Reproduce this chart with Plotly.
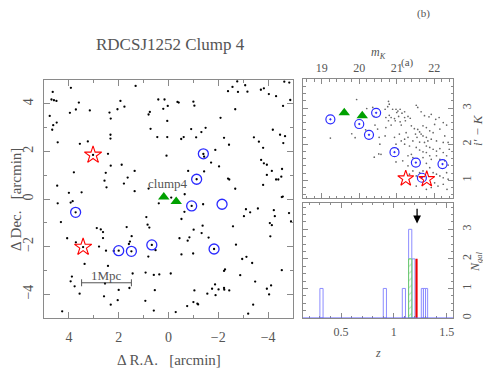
import plotly.graph_objects as go

# ---- left panel: sky positions (arcmin) ----
field_ra = [4.65, 3.92, 1.32, 4.7, 4.6, 4.5, 3.6, 1.93, 1.77, 2.05, 0.41, 0.16, 0.03, 0.21,
            3.96, 3.72, 3.16, 2.37, 0.75, 0.8, 4.77, 2.32, 0.05, 4.49, 4.63, 4.67, 0.72,
            2.33, 2.33, 0.45, 0.05, 4.45, 3.24, 3.56, 2.43, 0.08, 1.88, 2.32, 3.8, 1.36,
            1.64, 2.52, 2.57, 2.49, 4.47, 1.79, 0.8, 4.0, 3.49, 1.36,
            -2.76, -2.39, -2.57, -2.79, -3.08, -3.17, -3.71, -3.83, -4.03, -4.32, -4.65, -4.89,
            -0.36, -0.41, -1.0, -1.04, -2.68, -4.6, -2.09, -0.91, -1.32, -1.49, -4.19, -4.48,
            -4.68, -4.61, -0.51, -0.61, -1.11, -2.23, -2.43, -3.43, -3.63, -3.8, -1.88, -1.4,
            -1.43, -1.71, -2.03, -3.72, -3.83, -3.95, -4.56, -0.79, -1.43, -4.15, -3.95, -4.53,
            -4.32, -4.41, -2.39, -2.44, -3.8, -2.68, -0.65, -4.59, -4.85, -1.13,
            4.45, 3.93, 3.85, 3.73, 4.32, 0.39, 0.2, 0.89, 2.88, 2.63, 2.72, 1.68, 0.84, 0.77,
            4.07, 2.63, 1.48, 1.55, 1.59, 3.43, 3.72, 2.79, 2.0, 1.49, 0.67, 2.51, 2.2, 0.81,
            0.52, 3.37, 2.43, 1.44, 0.92, 0.59, 0.37, 3.88, 3.93, 3.77, 2.55, 2.0, 1.57, 0.55,
            3.57, 2.59, 2.04, 0.93, 2.32, 4.27, 0.59, 3.03,
            -0.11, -0.93, -1.39, -0.64, -0.52, -3.11, -3.28, -3.59, -3.03, -4.23, -4.27, -4.84,
            -4.92, -4.07, -4.15, -4.55, -1.37, -1.01, -1.33, -2.59, -4.09, -0.44, -0.84, -0.77,
            -1.61, -2.71, -1.83, -0.52, -0.99, -3.13, -2.96, -3.36, -2.27, -2.23, -4.55, -0.09,
            -2.88, -3.48, -1.87, -1.75, -2.01, -2.23, -2.24, -2.44, -1.04, -4.12, -3.95, -4.04,
            -1.56, -1.89, -1.0, -1.16, -1.19, -0.75, -3.4, -0.29, -3.2, -0.31]
field_dec = [4.5, 4.67, 4.75, 4.18, 4.15, 4.12, 4.05, 4.12, 3.88, 3.77, 4.18, 4.18, 3.91, 3.79,
             3.62, 3.76, 3.72, 3.63, 3.66, 3.55, 3.49, 3.38, 3.28, 3.21, 3.1, 2.91, 2.95,
             2.7, 2.54, 2.6, 2.6, 2.38, 2.42, 2.32, 1.9, 1.82, 1.44, 1.4, 1.12, 1.18,
             0.9, 1.1, 0.77, 0.49, 0.56, 0.65, 0.44, 0.26, 0.28, 0.33,
             4.94, 4.53, 4.71, 4.5, 4.78, 4.51, 4.59, 4.65, 4.41, 4.32, 4.93, 4.16,
             4.08, 4.05, 4.09, 3.92, 3.77, 3.91, 3.41, 2.94, 2.81, 2.99, 2.91, 2.7,
             2.64, 2.35, 2.52, 2.6, 2.59, 2.57, 2.28, 2.59, 2.41, 2.15, 2.06, 1.89,
             1.78, 1.53, 1.37, 1.64, 1.5, 1.44, 1.26, 1.18, 1.16, 1.18, 1.01, 0.94,
             0.82, 0.82, 0.86, 0.82, 0.59, 0.43, 0.2, 0.1, 4.89, 0.83,
             -0.18, -0.15, -0.09, -0.56, -0.97, -0.18, 0.08, -0.76, -1.22, -1.39, -1.28, -1.18, -1.08, -1.2,
             -1.65, -1.64, -1.56, -1.79, -1.89, -2.02, -1.82, -2.0, -2.17, -2.2, -1.93, -2.17, -2.18, -2.42,
             -2.15, -2.73, -2.81, -3.13, -3.09, -3.19, -3.17, -3.26, -3.46, -3.67, -3.55, -3.82, -3.74, -3.83,
             -3.98, -4.09, -4.25, -4.28, -4.44, -4.72, -4.69, 1.85,
             0.06, -0.29, -0.22, -0.54, -0.84, -0.43, -0.56, -0.4, -0.72, -0.47, -0.72, -0.59,
             -0.94, -1.01, -1.1, 0.08, -1.12, -1.29, -1.43, -1.15, -1.57, -1.65, -1.61, -1.75,
             -1.62, -1.92, -2.1, -2.33, -2.29, -2.43, -2.52, -2.69, -2.96, -3.02, -2.99, -3.13,
             -3.2, -3.47, -3.59, -3.77, -3.8, -3.74, -3.81, -3.84, -3.84, -3.63, -3.77, -4.01,
             -3.98, -4.04, -4.33, -4.4, -4.43, -4.5, -4.44, -4.75, -4.82, -0.1]

member_ra = [-1.4, -1.13, -0.93, -2.15, 3.73, 2.0, 1.49, 0.67, -1.83]
member_dec = [1.9, 0.83, -0.29, -0.22, -0.56, -2.17, -2.2, -1.93, -2.1]
star_ra = [3.03, 3.43]
star_dec = [1.85, -2.02]
tri_ra = [0.19, -0.31]
tri_dec = [0.08, -0.1]
clump_label = ("clump4", 0.05, 0.64)
scalebar_ra = [3.49, 1.49]
scalebar_dec = [-3.52, -3.52]
scalebar_label = ("1Mpc", 2.5, -3.2)

# ---- top right: colour-magnitude ----
cmd_mk = [20.78, 20.80, 20.76, 20.69, 20.89, 20.98, 21.03, 21.09, 21.00, 21.14, 21.21, 20.80,
          20.71, 20.85, 20.94, 21.05, 21.21, 21.30, 21.36, 20.78, 20.96, 21.09, 21.23, 21.52,
          21.56, 21.65, 21.74, 21.86, 21.92, 22.04, 22.13, 22.24, 22.33, 20.71, 20.85, 21.12,
          21.39, 21.47, 21.56, 21.61, 21.65, 21.70, 21.79, 21.88, 21.97, 21.50, 21.54, 21.43,
          21.61, 21.79, 21.88, 21.97, 22.06, 22.15, 22.24, 22.33, 22.06, 22.15, 22.28, 22.37,
          21.79, 21.88, 21.92, 21.34, 21.39, 21.43, 21.30, 21.70, 21.21, 21.12, 20.69, 20.94,
          20.98, 21.03, 21.16, 20.98, 21.30, 21.79, 21.88, 21.97, 22.06, 22.15, 22.24, 22.33,
          22.37, 22.01, 21.70, 21.61, 21.52, 21.43, 21.34, 21.79, 21.92, 22.10, 22.24, 22.34,
          21.52, 20.53, 20.55, 20.58, 20.49, 21.25, 21.30, 21.21, 21.07, 21.70, 21.79, 22.01,
          22.15, 22.28, 22.37, 22.40, 22.24, 22.06, 21.92, 21.83, 21.74, 21.52, 21.61, 21.70,
          19.93, 19.23, 19.80, 19.89, 20.20, 20.36, 20.39, 20.42, 20.40, 20.52, 20.17]
cmd_col = [3.19, 3.11, 3.04, 2.97, 2.97, 2.97, 2.92, 2.97, 2.88, 2.86, 2.90, 2.80,
           2.74, 2.74, 2.71, 2.77, 2.74, 2.77, 2.72, 2.65, 2.65, 2.62, 2.65, 3.08,
           3.02, 2.90, 2.79, 2.76, 2.83, 2.69, 2.74, 2.60, 2.53, 2.46, 2.53, 2.53,
           2.51, 2.43, 2.41, 2.34, 2.28, 2.23, 2.19, 2.37, 2.32, 2.28, 2.19, 2.09,
           2.06, 1.95, 1.91, 1.86, 1.81, 1.88, 1.77, 1.68, 1.68, 1.58, 1.54, 1.42,
           1.77, 1.68, 1.58, 1.95, 1.72, 1.63, 1.68, 1.63, 2.00, 2.09, 2.23, 2.19,
           2.00, 1.86, 1.54, 1.51, 1.40, 1.47, 1.35, 1.21, 1.17, 1.12, 1.07, 1.21,
           1.03, 0.93, 1.26, 1.21, 1.12, 1.26, 1.17, 0.75, 0.80, 0.84, 0.89, 0.75,
           0.84, 2.19, 2.00, 1.72, 2.42, 2.32, 2.19, 2.14, 2.28, 2.51, 2.46, 2.55,
           2.42, 2.23, 2.05, 1.86, 2.05, 2.09, 2.14, 2.09, 2.05, 1.91, 1.84, 1.79,
           3.24, 2.17, 2.29, 2.18, 2.99, 3.02, 2.77, 2.53, 1.64, 1.73, 2.40]
cmd_member_mk = [19.23, 20.0, 20.26, 20.45, 20.94, 21.51, 21.67, 22.22]
cmd_member_col = [2.69, 2.56, 2.26, 2.87, 1.78, 1.49, 1.07, 1.45]
cmd_star_mk = [21.24, 21.8]
cmd_star_col = [1.05, 1.03]
cmd_tri_mk = [19.6, 20.08]
cmd_tri_col = [2.87, 2.79]

# ---- bottom right: redshift histogram ----
z_left = [0.30, 0.90, 1.08, 1.14, 1.17, 1.26, 1.28, 1.30]
z_right = [0.33, 0.93, 1.11, 1.17, 1.20, 1.28, 1.30, 1.32]
z_count = [1, 1, 1, 3, 2, 1, 1, 1]
green_z = [1.14, 1.17]
green_n = 2
red_z = [1.205, 1.225]
red_n = 2
arrow_z = 1.22
arrow_top, arrow_tip = 3.75, 3.2

GREY = "#555555"
FRAME = "#8a8a8a"
BLUE = "#2b2bff"
FONT = "Liberation Serif"

W, H = 483, 361  # page body has an 8px margin


def px(x):
    return (x - 8) / W


def py(y):
    return 1 - (y - 8) / H


fig = go.Figure()

# left panel
fig.add_trace(go.Scatter(x=field_ra, y=field_dec, mode="markers",
                         marker=dict(color="black", size=2.3), xaxis="x", yaxis="y"))
fig.add_trace(go.Scatter(x=member_ra, y=member_dec, mode="markers",
                         marker=dict(symbol="circle-open", color=BLUE, size=10, line=dict(width=1.3)),
                         xaxis="x", yaxis="y"))
fig.add_trace(go.Scatter(x=star_ra, y=star_dec, mode="markers",
                         marker=dict(symbol="star-open", color="red", size=13, line=dict(width=1.1)),
                         xaxis="x", yaxis="y"))
fig.add_trace(go.Scatter(x=tri_ra, y=tri_dec, mode="markers",
                         marker=dict(symbol="triangle-up", color="#00a000", size=10),
                         xaxis="x", yaxis="y"))
fig.add_trace(go.Scatter(x=scalebar_ra, y=scalebar_dec, mode="lines+markers",
                         line=dict(color=GREY, width=1),
                         marker=dict(symbol="line-ns-open", size=5, color=GREY, line=dict(width=1)),
                         xaxis="x", yaxis="y"))

# colour-magnitude panel
fig.add_trace(go.Scatter(x=cmd_mk, y=cmd_col, mode="markers",
                         marker=dict(color="#666666", size=1.7), xaxis="x2", yaxis="y2"))
fig.add_trace(go.Scatter(x=cmd_member_mk, y=cmd_member_col, mode="markers",
                         marker=dict(symbol="circle-open-dot", color=BLUE, size=9, line=dict(width=1.2)),
                         xaxis="x2", yaxis="y2"))
fig.add_trace(go.Scatter(x=cmd_star_mk, y=cmd_star_col, mode="markers",
                         marker=dict(symbol="star-open", color="red", size=12, line=dict(width=1.1)),
                         xaxis="x2", yaxis="y2"))
fig.add_trace(go.Scatter(x=cmd_tri_mk, y=cmd_tri_col, mode="markers",
                         marker=dict(symbol="triangle-up", color="#00a000", size=10),
                         xaxis="x2", yaxis="y2"))

# histogram
fig.add_trace(go.Bar(x=[(a + b) / 2 for a, b in zip(z_left, z_right)], y=z_count,
                     width=[b - a for a, b in zip(z_left, z_right)],
                     marker=dict(color="rgba(0,0,0,0)", line=dict(color="#8c8cff", width=1)),
                     xaxis="x3", yaxis="y3"))
fig.add_trace(go.Bar(x=[sum(green_z) / 2], y=[green_n], width=[green_z[1] - green_z[0]],
                     marker=dict(color="white", line=dict(color="#66cc66", width=1),
                                 pattern=dict(shape="/", fgcolor="#66cc66", bgcolor="white", size=5)),
                     xaxis="x3", yaxis="y3"))
fig.add_trace(go.Bar(x=[sum(red_z) / 2], y=[red_n], width=[red_z[1] - red_z[0]],
                     marker=dict(color="#ee0000", line=dict(width=0)),
                     xaxis="x3", yaxis="y3"))

axis_common = dict(showline=True, linecolor=FRAME, linewidth=1, mirror="ticks", ticks="inside",
                   tickcolor=FRAME, showgrid=False, zeroline=False)

fig.update_layout(
    width=W, height=H, margin=dict(l=0, r=0, t=0, b=0),
    paper_bgcolor="white", plot_bgcolor="white", showlegend=False, barmode="overlay",
    xaxis=dict(axis_common, domain=[px(44), px(293)], range=[5, -5], anchor="y",
               tickvals=[4, 2, 0, -2, -4], ticklen=6, ticklabelstandoff=6,
               minor=dict(ticks="inside", dtick=1, ticklen=3, tickcolor=FRAME),
               tickfont=dict(family=FONT, color=GREY, size=14)),
    yaxis=dict(axis_common, domain=[py(318), py(80)], range=[-5, 5], anchor="x",
               tickvals=[4, 2, 0, -2, -4], ticklen=6, tickangle=-90, ticklabelstandoff=4,
               minor=dict(ticks="inside", dtick=1, ticklen=3, tickcolor=FRAME),
               tickfont=dict(family=FONT, color=GREY, size=14)),
    xaxis2=dict(axis_common, domain=[px(303), px(453)], range=[18.5, 22.5], anchor="y2", side="top",
                tickvals=[19, 20, 21, 22], ticklen=5, ticklabelstandoff=2,
                minor=dict(ticks="inside", dtick=0.2, ticklen=2.5, tickcolor=FRAME),
                tickfont=dict(family=FONT, color=GREY, size=12)),
    yaxis2=dict(axis_common, domain=[py(198.3), py(79.3)], range=[0.5, 3.8], anchor="x2", side="right",
                tickvals=[1, 2, 3], ticklen=5, tickangle=-90, ticklabelstandoff=3,
                minor=dict(ticks="inside", dtick=0.2, ticklen=2.5, tickcolor=FRAME),
                tickfont=dict(family=FONT, color=GREY, size=12)),
    xaxis3=dict(axis_common, domain=[px(303), px(453)], range=[0.14, 1.56], anchor="y3",
                tickvals=[0.5, 1, 1.5], ticktext=["0.5", "1", "1.5"], ticklen=5, ticklabelstandoff=3,
                minor=dict(ticks="inside", dtick=0.1, ticklen=2.5, tickcolor=FRAME),
                tickfont=dict(family=FONT, color=GREY, size=12)),
    yaxis3=dict(axis_common, domain=[py(318), py(202.7)], range=[0, 3.9], anchor="x3", side="right",
                tickvals=[0, 1, 2, 3], ticklen=5, tickangle=-90, ticklabelstandoff=3,
                minor=dict(ticks="inside", dtick=0.25, ticklen=2.5, tickcolor=FRAME),
                tickfont=dict(family=FONT, color=GREY, size=12)),
)

# blue baseline of the histogram
fig.add_shape(type="line", xref="x3 domain", yref="y3", x0=0, x1=1, y0=0, y1=0,
              line=dict(color="#6060ff", width=1.2))

txt = dict(family=FONT, color=GREY)
ann = [
    dict(text="RDCSJ1252 Clump 4", x=px(170), y=py(44), font=dict(txt, size=17)),
    dict(text="(b)", x=px(423), y=py(14), font=dict(txt, size=11)),
    dict(text="(a)", x=px(407), y=py(63), font=dict(txt, size=11)),
    dict(text="<i>m</i><sub><i>K</i></sub>", x=px(378), y=py(53), font=dict(txt, size=12)),
    dict(text="<i>i′ − K</i>", x=px(477), y=py(130), textangle=-90, font=dict(txt, size=13)),
    dict(text="<i>N</i><sub><i>gal</i></sub>", x=px(476), y=py(262), textangle=-90, font=dict(txt, size=12)),
    dict(text="<i>z</i>", x=px(378), y=py(353), font=dict(txt, size=12)),
    dict(text="Δ R.A.   [arcmin]", x=px(169), y=py(360), font=dict(txt, size=15)),
    dict(text="Δ Dec.   [arcmin]", x=px(16), y=py(200), textangle=-90, font=dict(txt, size=15)),
]
for a in ann:
    fig.add_annotation(xref="paper", yref="paper", showarrow=False,
                       xanchor="center", yanchor="middle", **a)

fig.add_annotation(text=clump_label[0], x=clump_label[1], y=clump_label[2], xref="x", yref="y",
                   showarrow=False, font=dict(txt, size=13))
fig.add_annotation(text=scalebar_label[0], x=scalebar_label[1], y=scalebar_label[2], xref="x", yref="y",
                   showarrow=False, font=dict(txt, size=13))
fig.add_annotation(x=arrow_z, y=arrow_tip, ax=arrow_z, ay=arrow_top, xref="x3", yref="y3",
                   axref="x3", ayref="y3", text="", showarrow=True, arrowhead=2, arrowsize=1.2,
                   arrowwidth=1.3, arrowcolor="black")

fig.write_html("out.html")
